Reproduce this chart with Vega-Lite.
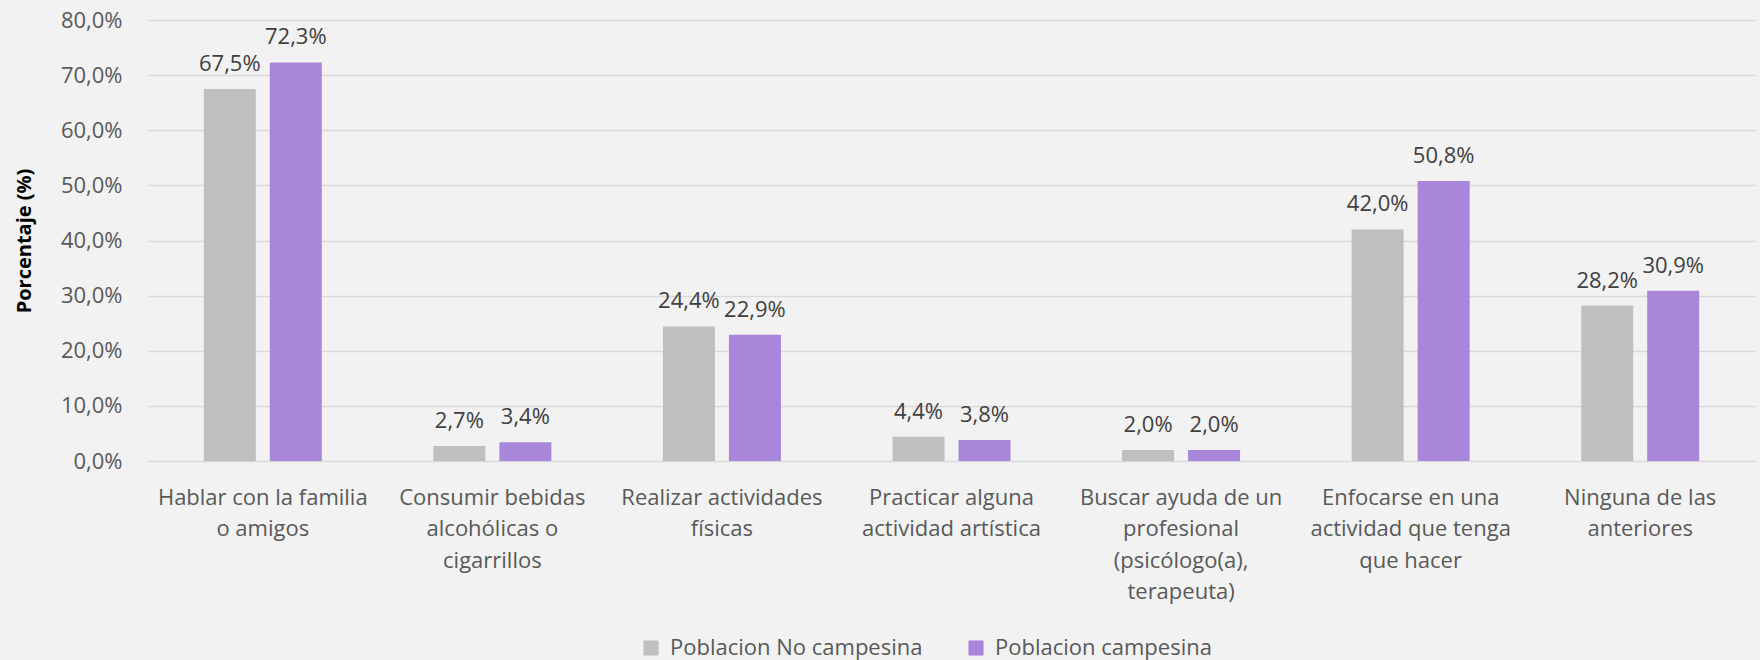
{
  "$schema": "https://vega.github.io/schema/vega-lite/v6.json",
  "width": 1607,
  "height": 441,
  "autosize": {"type": "none"},
  "padding": {"left": 148, "top": 20, "right": 5, "bottom": 199},
  "background": "#f2f2f2",
  "config": {
    "view": {"stroke": null},
    "font": "Open Sans"
  },
  "data": {
    "values": [
      {"cat": "Hablar con la familia|o amigos", "grupo": "Poblacion No campesina", "valor": 67.5},
      {"cat": "Hablar con la familia|o amigos", "grupo": "Poblacion campesina", "valor": 72.3},
      {"cat": "Consumir bebidas|alcohólicas o|cigarrillos", "grupo": "Poblacion No campesina", "valor": 2.7},
      {"cat": "Consumir bebidas|alcohólicas o|cigarrillos", "grupo": "Poblacion campesina", "valor": 3.4},
      {"cat": "Realizar actividades|físicas", "grupo": "Poblacion No campesina", "valor": 24.4},
      {"cat": "Realizar actividades|físicas", "grupo": "Poblacion campesina", "valor": 22.9},
      {"cat": "Practicar alguna|actividad artística", "grupo": "Poblacion No campesina", "valor": 4.4},
      {"cat": "Practicar alguna|actividad artística", "grupo": "Poblacion campesina", "valor": 3.8},
      {"cat": "Buscar ayuda de un|profesional|(psicólogo(a),|terapeuta)", "grupo": "Poblacion No campesina", "valor": 2.0},
      {"cat": "Buscar ayuda de un|profesional|(psicólogo(a),|terapeuta)", "grupo": "Poblacion campesina", "valor": 2.0},
      {"cat": "Enfocarse en una|actividad que tenga|que hacer", "grupo": "Poblacion No campesina", "valor": 42.0},
      {"cat": "Enfocarse en una|actividad que tenga|que hacer", "grupo": "Poblacion campesina", "valor": 50.8},
      {"cat": "Ninguna de las|anteriores", "grupo": "Poblacion No campesina", "valor": 28.2},
      {"cat": "Ninguna de las|anteriores", "grupo": "Poblacion campesina", "valor": 30.9}
    ]
  },
  "encoding": {
    "x": {
      "field": "cat",
      "type": "nominal",
      "sort": null,
      "scale": {"paddingInner": 0, "paddingOuter": 0},
      "axis": {
        "title": null,
        "labelAngle": 0,
        "labelExpr": "split(datum.label, '|')",
        "labelFontSize": 22,
        "labelColor": "#595959",
        "labelLineHeight": 31.5,
        "labelPadding": 26,
        "labelBaseline": "top",
        "domain": false,
        "ticks": false,
        "labelLimit": 400
      }
    },
    "xOffset": {
      "field": "grupo",
      "type": "nominal",
      "sort": ["Poblacion No campesina", "Poblacion campesina"],
      "scale": {"paddingInner": 0.212, "paddingOuter": 0.845}
    },
    "y": {
      "field": "valor",
      "type": "quantitative",
      "scale": {"domain": [0, 80]},
      "axis": {
        "title": "Porcentaje (%)",
        "titleFontSize": 20,
        "titleFontWeight": "bold",
        "titleColor": "#000000",
        "titlePadding": 26,
        "values": [0, 10, 20, 30, 40, 50, 60, 70, 80],
        "labelExpr": "replace(format(datum.value, '.1f'), '.', ',') + '%'",
        "labelFontSize": 22,
        "labelColor": "#595959",
        "labelPadding": 26,
        "domain": false,
        "ticks": false,
        "gridColor": "#d9d9d9",
        "gridWidth": 1.5
      }
    }
  },
  "layer": [
    {
      "mark": {"type": "bar"},
      "encoding": {
        "color": {
          "field": "grupo",
          "type": "nominal",
          "scale": {
            "domain": ["Poblacion No campesina", "Poblacion campesina"],
            "range": ["#bfbfbf", "#a886da"]
          },
          "legend": {
            "title": null,
            "orient": "none",
            "legendX": 492,
            "legendY": 617,
            "direction": "horizontal",
            "symbolType": "square",
            "symbolSize": 225,
            "symbolStrokeWidth": 0,
            "labelFontSize": 22,
            "labelColor": "#595959",
            "labelLimit": 500,
            "columnPadding": 42,
            "labelOffset": 8
          }
        }
      }
    },
    {
      "transform": [
        {"calculate": "replace(format(datum.valor, '.1f'), '.', ',') + '%'", "as": "etiqueta"}
      ],
      "mark": {"type": "text", "baseline": "alphabetic", "dy": -18, "fontSize": 22, "color": "#404040"},
      "encoding": {
        "text": {"field": "etiqueta", "type": "nominal"}
      }
    }
  ]
}
